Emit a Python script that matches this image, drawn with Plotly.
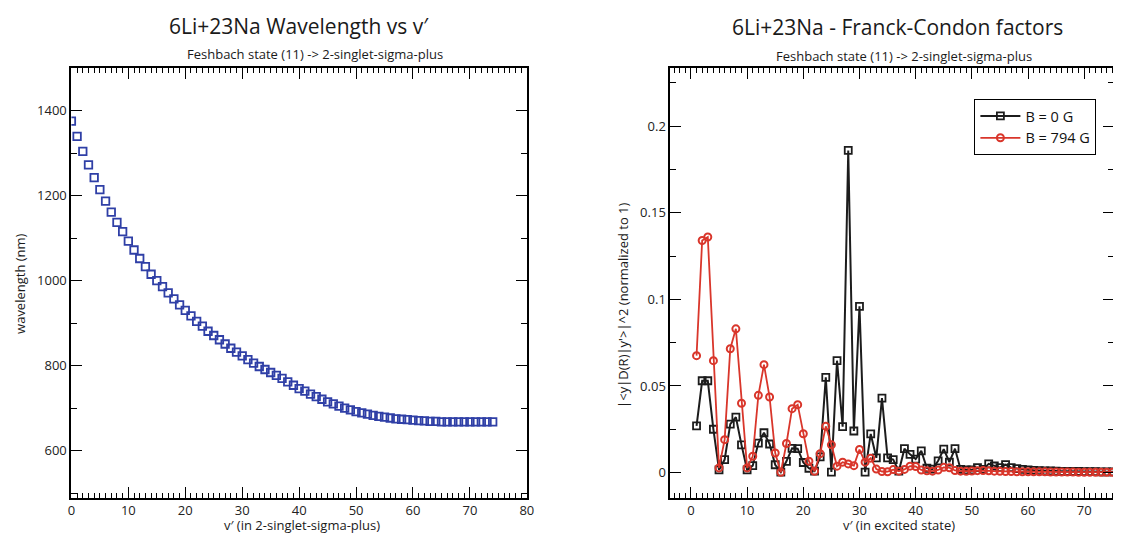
import plotly.graph_objects as go

# v' values and wavelengths (nm) for the left panel
v_wl = list(range(75))
wavelength = [1375, 1339, 1304, 1272, 1242, 1214, 1187, 1161, 1137, 1115,
              1093, 1072, 1052, 1033, 1015, 1000, 986, 971, 957, 943,
              930, 917, 904, 893, 881, 871, 861, 851, 841, 832,
              823, 814, 806, 798, 791, 784, 777, 770, 762, 754,
              746, 740, 733, 727, 721, 715, 710, 705, 700, 696,
              692, 689, 686, 683, 681, 679, 677, 675, 674, 673,
              672, 671, 670, 669, 669, 668, 668, 668, 668, 668,
              668, 668, 668, 668, 668]

# Franck-Condon factors, right panel
v_fc = list(range(1, 77))
fc_0G = [0.027, 0.053, 0.053, 0.025, 0.0015, 0.0075, 0.028, 0.032, 0.016, 0.0015,
         0.004, 0.017, 0.023, 0.0165, 0.0045, 0.0003, 0.0065, 0.014, 0.0138, 0.0058,
         0.0025, 0.0008, 0.009, 0.055, 0.0003, 0.0646, 0.0265, 0.186, 0.024, 0.096,
         0.0003, 0.0223, 0.0085, 0.043, 0.0085, 0.0075, 0.0008, 0.0138, 0.0105, 0.0078,
         0.0125, 0.0025, 0.002, 0.0068, 0.0135, 0.006, 0.0138, 0.0018, 0.0015, 0.0015,
         0.0028, 0.0018, 0.005, 0.0038, 0.0028, 0.0046, 0.0028, 0.0023, 0.0018, 0.0016,
         0.0013, 0.0011, 0.001, 0.0009, 0.0008, 0.0007, 0.0007, 0.0006, 0.0006, 0.0005,
         0.0005, 0.0005, 0.0004, 0.0004, 0.0004, 0.0004]
fc_794G = [0.0675, 0.134, 0.136, 0.0646, 0.0027, 0.019, 0.0715, 0.083, 0.040, 0.0027,
           0.0094, 0.0446, 0.0623, 0.0436, 0.0113, 0.0002, 0.0168, 0.0369, 0.0392, 0.0224,
           0.0066, 0.0007, 0.0109, 0.0267, 0.016, 0.0037, 0.006, 0.005, 0.004, 0.0133,
           0.006, 0.0083, 0.002, 0.0006, 0.0005, 0.0017, 0.0008, 0.0018, 0.0037, 0.0035,
           0.0015, 0.001, 0.0008, 0.0015, 0.003, 0.0028, 0.0012, 0.0008, 0.0007, 0.0009,
           0.0011, 0.0012, 0.001, 0.0008, 0.0007, 0.0006, 0.0006, 0.0005, 0.0005, 0.0005,
           0.0004, 0.0004, 0.0004, 0.0003, 0.0003, 0.0003, 0.0003, 0.0003, 0.0002, 0.0002,
           0.0002, 0.0002, 0.0002, 0.0002, 0.0002, 0.0002]

# page body has an 8px margin, so the figure is drawn 8px in and made smaller
OFF = 8
W, H = 1121 - OFF, 533 - OFF
FONT = "Open Sans"

fig = go.Figure()

fig.add_trace(go.Scatter(x=v_wl, y=wavelength, mode="markers", showlegend=False,
                         marker=dict(symbol="square-open", size=7.5, color="#2f3fa6",
                                     line=dict(width=1.8, color="#2f3fa6")),
                         xaxis="x", yaxis="y"))

fig.add_trace(go.Scatter(x=v_fc, y=fc_0G, mode="lines+markers", name="B = 0 G",
                         line=dict(color="#1c1c1c", width=2),
                         marker=dict(symbol="square-open", size=7, color="#1c1c1c",
                                     line=dict(width=1.8, color="#1c1c1c")),
                         xaxis="x2", yaxis="y2"))
fig.add_trace(go.Scatter(x=v_fc, y=fc_794G, mode="lines+markers", name="B = 794 G",
                         line=dict(color="#d9362b", width=1.8),
                         marker=dict(symbol="circle-open", size=7, color="#d9362b",
                                     line=dict(width=2, color="#d9362b")),
                         xaxis="x2", yaxis="y2"))


def px_x(p):
    # window pixel -> paper x
    return (p - OFF) / W


def px_y(p):
    # window pixel (from top) -> paper y
    return (H - (p - OFF)) / H


axis_common = dict(showgrid=False, zeroline=False, showline=True, linecolor="black",
                   linewidth=2, mirror="allticks", ticks="inside", ticklen=11,
                   tickwidth=1.3, tickcolor="black",
                   tickfont=dict(family=FONT, size=13, color="#222"))

fig.update_layout(
    width=W, height=H,
    margin=dict(l=0, r=0, t=0, b=0),
    plot_bgcolor="white", paper_bgcolor="white",
    xaxis=dict(axis_common, domain=[px_x(68), px_x(528)], range=[0, 80], dtick=10,
               minor=dict(dtick=1, ticks="inside", ticklen=5, tickcolor="black", tickwidth=1),
               anchor="y"),
    yaxis=dict(axis_common, domain=[px_y(497.5), px_y(68)], range=[490, 1500], dtick=200,
               tick0=600,
               minor=dict(dtick=100, ticks="inside", ticklen=6, tickcolor="black", tickwidth=1.3),
               anchor="x"),
    xaxis2=dict(axis_common, domain=[px_x(673), 1.0], range=[-3.65, 75.3], dtick=10,
                minor=dict(dtick=1, ticks="inside", ticklen=5, tickcolor="black", tickwidth=1),
                anchor="y2"),
    yaxis2=dict(axis_common, domain=[px_y(497.5), px_y(68)], range=[-0.0144, 0.2336],
                dtick=0.05, tick0=0,
                minor=dict(dtick=0.025, ticks="inside", ticklen=6, tickcolor="black", tickwidth=1.3),
                anchor="x2"),
    legend=dict(x=px_x(980), y=px_y(99), xanchor="left", yanchor="top",
                bordercolor="black", borderwidth=1, bgcolor="white",
                font=dict(family=FONT, size=14.5, color="#111"),
                tracegroupgap=0, itemwidth=40),
)

annots = [
    dict(text="6Li+23Na Wavelength vs v′", x=px_x(298), y=px_y(26), size=21),
    dict(text="Feshbach state (11) -> 2-singlet-sigma-plus", x=px_x(314), y=px_y(54), size=13),
    dict(text="6Li+23Na - Franck-Condon factors", x=px_x(902), y=px_y(27), size=21),
    dict(text="Feshbach state (11) -> 2-singlet-sigma-plus", x=px_x(909), y=px_y(56), size=13),
    dict(text="v′ (in 2-singlet-sigma-plus)", x=px_x(301), y=px_y(525), size=13),
    dict(text="v′ (in excited state)", x=px_x(904), y=px_y(525), size=13),
]
for a in annots:
    fig.add_annotation(text=a["text"], x=a["x"], y=a["y"], xref="paper", yref="paper",
                       xanchor="center", yanchor="middle", showarrow=False, borderpad=0,
                       font=dict(family=FONT, size=a["size"], color="#1a1a1a"))

fig.add_annotation(text="wavelength (nm)", x=px_x(16), y=px_y(283), xref="paper", yref="paper",
                   textangle=-90, showarrow=False, xanchor="center", yanchor="middle",
                   font=dict(family=FONT, size=13, color="#1a1a1a"))
fig.add_annotation(text="|<y|D(R)|y'>|^2 (normalized to 1)", x=px_x(625), y=px_y(305),
                   xref="paper", yref="paper", textangle=-90, showarrow=False,
                   xanchor="center", yanchor="middle",
                   font=dict(family=FONT, size=13, color="#1a1a1a"))

fig.write_html("out.html")
